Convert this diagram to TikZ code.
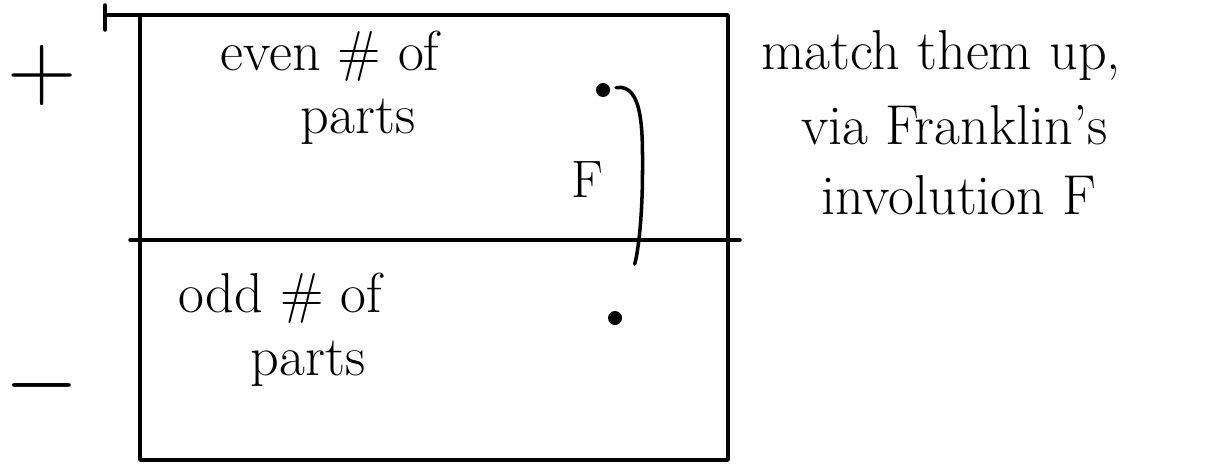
\documentclass[tikz,border=0pt]{standalone}
\usetikzlibrary{positioning, calc}

\begin{document}
\begin{tikzpicture}[
    font=\fontsize{32}{36}\selectfont,
    ink/.style={line width=2pt, line cap=round, line join=round},
    txt/.style={align=center, inner sep=1pt},
    sgn/.style={inner sep=0pt},
    dotmark/.style={circle, fill, inner sep=0pt, minimum size=0.28cm},
    lbl/.style={font=\fontsize{30}{30}\selectfont}
]
\useasboundingbox (0,0) rectangle (24.42,-9.32);

% the box and its two halves
\draw[ink] (2.8,-0.3) rectangle (14.56,-9.2);
\draw[ink] (2.1,-0.3) -- (2.8,-0.3);
\draw[ink] (2.1,-0.1) -- (2.1,-0.6);
\draw[ink] (2.6,-4.8) -- (14.8,-4.8);

% signs
\node[sgn] (plus)  at (0.84,-1.5) {\scalebox{2.2}{$+$}};
\node[sgn] (minus) at (0.84,-7.7) {\scalebox{2.2}{$-$}};

% contents
\node[txt] (even) at (6.6,-1.75) {even \# of\\ \quad parts};
\node[txt] (odd)  at (5.6,-6.6) {odd \# of\\ \quad parts};

\node[dotmark] (dtop) at (12.06,-1.8) {};
\node[dotmark] (dbot) at (12.3,-6.36) {};
\node[lbl] (F) at (11.75,-3.6) {F};

\coordinate (bend) at (12.85,-3.4);
\draw[ink, shorten <=0.12cm, shorten >=1.0cm] (dtop) to[out=10, in=90] (bend) to[out=-90, in=70] (dbot);

% remark
\node[anchor=west] (m1) at (15.1,-1.1) {match them up,};
\node[anchor=west] (m2) at (15.9,-2.5) {via Franklin's};
\node[anchor=west] (m3) at (16.3,-3.9) {involution F};
\end{tikzpicture}
\end{document}
